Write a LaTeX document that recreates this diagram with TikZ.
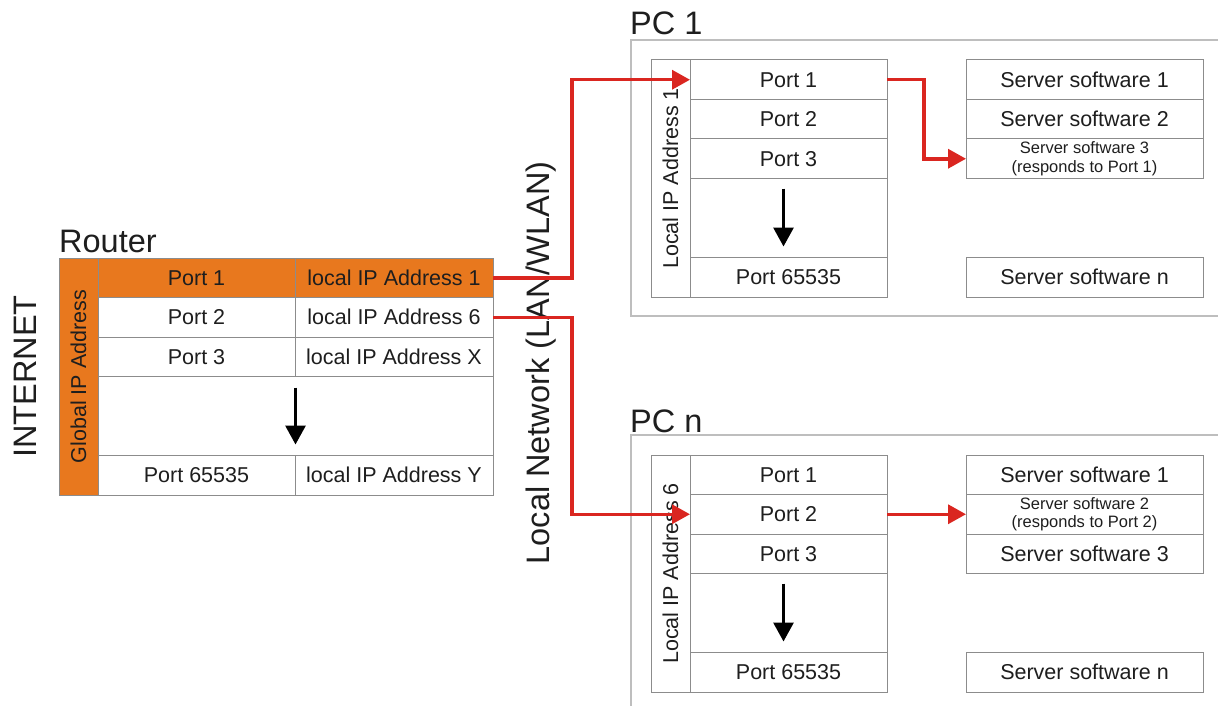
\documentclass[tikz,border=0pt]{standalone}
\usepackage{fontspec}
\setmainfont{Liberation Sans}
\usetikzlibrary{arrows.meta,calc}
\definecolor{routerorange}{RGB}{232,120,30}
\definecolor{linkred}{RGB}{218,38,32}
\definecolor{cellgray}{RGB}{140,140,140}
\definecolor{framegray}{RGB}{190,190,190}
\definecolor{inkcol}{RGB}{30,30,30}
\begin{document}
\begin{tikzpicture}[x=1pt,y=-1pt,
  cell/.style={draw=cellgray, line width=1pt, inner sep=0pt, outer sep=0pt, text=inkcol,
    font=\fontsize{21.5}{24}\selectfont, align=center, minimum height=39.5pt},
  hot/.style={cell, fill=routerorange},
  smalltext/.style={font=\fontsize{16.5}{18.5}\selectfont},
  bigtext/.style={text=inkcol, font=\fontsize{32.5}{36}\selectfont, inner sep=0pt},
  redarrow/.style={draw=linkred, line width=3.5pt, -{Triangle[width=19pt,length=18pt]}},
  downarrow/.style={draw=black, line width=3pt, -{Triangle[width=20pt,length=19pt]}},
  pcframe/.style={draw=framegray, line width=1.2pt}
]
\useasboundingbox (0,0) rectangle (1218,706);

% PC frames
\draw[pcframe] (1218,40) -- (631,40) -- (631,316) -- (1218,316);
\draw[pcframe] (1218,435) -- (631,435) -- (631,706);

% labels
\node[bigtext, anchor=base west] (routerlbl) at (59,252) {Router};
\node[bigtext, anchor=base west] (pc1lbl) at (630,35) {PC 1};
\node[bigtext, anchor=base west] (pcnlbl) at (630,432) {PC n};
\node[bigtext, rotate=90] (internet) at (25,376.5) {INTERNET};
\node[bigtext, rotate=90] (lanlbl) at (541,363) {Local Network (LAN/WLAN)};

% Router table
\node[hot, rotate=90, minimum width=237pt, minimum height=39pt] (glob) at (78.5,376.5) {Global IP Address};
\node[hot, minimum width=197pt] (r1p) at (196.5,277.75) {Port 1};
\node[hot, minimum width=198pt] (r1a) at (394,277.75) {local IP Address 1};
\node[cell, minimum width=197pt] (r2p) at (196.5,317.25) {Port 2};
\node[cell, minimum width=198pt] (r2a) at (394,317.25) {local IP Address 6};
\node[cell, minimum width=197pt] (r3p) at (196.5,356.75) {Port 3};
\node[cell, minimum width=198pt] (r3a) at (394,356.75) {local IP Address X};
\node[cell, minimum width=395pt, minimum height=79pt] (rgap) at (295.5,416) {};
\node[cell, minimum width=197pt] (rNp) at (196.5,475.25) {Port 65535};
\node[cell, minimum width=198pt] (rNa) at (394,475.25) {local IP Address Y};
\draw[downarrow] ([yshift=-11pt]rgap.north) -- ([yshift=11pt]rgap.south);

% PC 1
\node[cell, rotate=90, minimum width=237pt, minimum height=39pt] (p1ip) at (670.5,178.5) {Local IP Address 1};
\node[cell, minimum width=197pt] (p1r1) at (788.5,79.75) {Port 1};
\node[cell, minimum width=197pt] (p1r2) at (788.5,119.25) {Port 2};
\node[cell, minimum width=197pt] (p1r3) at (788.5,158.75) {Port 3};
\node[cell, minimum width=197pt, minimum height=79pt] (p1gap) at (788.5,218) {};
\node[cell, minimum width=197pt] (p1rN) at (788.5,277.25) {Port 65535};
\draw[downarrow] ([xshift=-5pt,yshift=-10pt]p1gap.north) -- ([xshift=-5pt,yshift=11pt]p1gap.south);
\node[cell, minimum width=237pt] (p1s1) at (1084.5,79.75) {Server software 1};
\node[cell, minimum width=237pt] (p1s2) at (1084.5,119.25) {Server software 2};
\node[cell, smalltext, minimum width=237pt] (p1s3) at (1084.5,158.75) {Server software 3\\(responds to Port 1)};
\node[cell, minimum width=237pt] (p1sN) at (1084.5,277.25) {Server software n};

% PC n
\node[cell, rotate=90, minimum width=237pt, minimum height=39pt] (pnip) at (670.5,573.5) {Local IP Address 6};
\node[cell, minimum width=197pt] (pnr1) at (788.5,474.75) {Port 1};
\node[cell, minimum width=197pt] (pnr2) at (788.5,514.25) {Port 2};
\node[cell, minimum width=197pt] (pnr3) at (788.5,553.75) {Port 3};
\node[cell, minimum width=197pt, minimum height=79pt] (pngap) at (788.5,613) {};
\node[cell, minimum width=197pt] (pnrN) at (788.5,672.25) {Port 65535};
\draw[downarrow] ([xshift=-5pt,yshift=-10pt]pngap.north) -- ([xshift=-5pt,yshift=11pt]pngap.south);
\node[cell, minimum width=237pt] (pns1) at (1084.5,474.75) {Server software 1};
\node[cell, smalltext, minimum width=237pt] (pns2) at (1084.5,514.25) {Server software 2\\(responds to Port 2)};
\node[cell, minimum width=237pt] (pns3) at (1084.5,553.75) {Server software 3};
\node[cell, minimum width=237pt] (pnsN) at (1084.5,672.25) {Server software n};

% red connectors
\coordinate (lan) at (572,0);
\coordinate (bend1) at (924,0);
\draw[redarrow] (r1a.east) -- (r1a.east -| lan) -- (p1r1.west -| lan) -- (p1r1.west);
\draw[redarrow] (r2a.east) -- (r2a.east -| lan) -- (pnr2.west -| lan) -- (pnr2.west);
\draw[redarrow] (p1r1.east) -- (p1r1.east -| bend1) -- (p1s3.west -| bend1) -- (p1s3.west);
\draw[redarrow] (pnr2.east) -- (pns2.west);
\end{tikzpicture}
\end{document}
